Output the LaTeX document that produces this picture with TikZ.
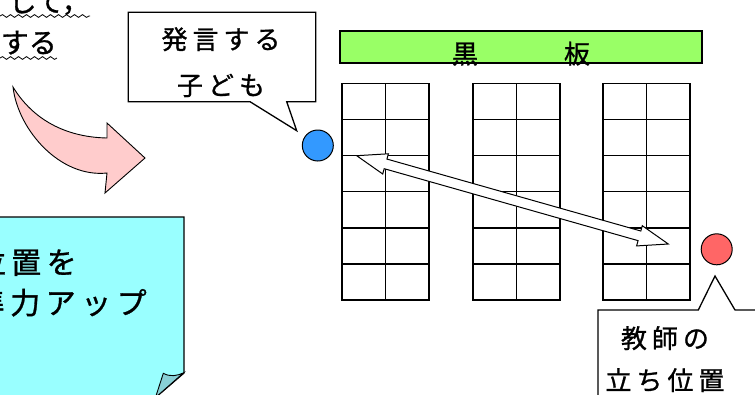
\documentclass[tikz,border=0pt]{standalone}
\usepackage{fontspec}
\newfontfamily\jp[FakeBold=1.0]{Noto Sans CJK JP}
\usetikzlibrary{calc,decorations.pathmorphing}
\definecolor{kidblue}{HTML}{3399FF}
\definecolor{teachred}{HTML}{FF6666}
\definecolor{boardgreen}{HTML}{99FF66}
\definecolor{notecyan}{HTML}{99FFFF}
\definecolor{foldcyan}{HTML}{88D0D6}
\definecolor{arrowpink}{HTML}{FFCCCC}
\newcommand{\kk}{\hspace{5pt}}
\newcommand{\kc}{\hspace{5.5pt}}
\begin{document}
\begin{tikzpicture}[x=1pt,y=-1pt,
  ol/.style={draw=black,line width=1.3pt,line join=miter},
  txt/.style={inner sep=0pt,anchor=base,font=\jp\fontsize{26}{26}\selectfont},
  notetxt/.style={inner sep=0pt,anchor=base west,font=\jp\fontsize{30}{30}\selectfont},
  toptxt/.style={inner sep=0pt,anchor=base east,font=\jp\fontsize{28}{28}\selectfont},
  wavy/.style={draw=black,line width=0.8pt,decorate,decoration={snake,amplitude=1.4pt,segment length=8pt}},
  desk/.style={draw=black,line width=1.6pt},
  person/.style={circle,draw=black,line width=1pt,inner sep=0pt,minimum size=31pt}]
\useasboundingbox (0,0) rectangle (755,394);

% top-left text with wavy underline
\node[toptxt] (t1) at (90,12) {して，};
\node[toptxt] (t2) at (57,53) {する};
\draw[wavy] (0,16) -- (90,16);
\draw[wavy] (0,58) -- (57,58);

% pink curved arrow
\draw[ol,line width=0.9pt,fill=arrowpink] (13,87) .. controls (30,115) and (60,137) .. (107,138)
  -- (107,123) -- (145,158) -- (105,193) -- (107,173)
  .. controls (60,178) and (18,130) .. (13,87) -- cycle;

% cyan note
\draw[ol,fill=notecyan] (-5,217) -- (184,217) -- (184,373) -- (155.5,397.5) -- (-5,397.5) -- cycle;
\draw[ol,line width=0.9pt,fill=foldcyan] (163.3,373.3) .. controls (170,377) and (177,376) .. (183.6,372.8)
  -- (155.5,397.5) -- cycle;
\node[notetxt] (n1) at (-24.5,273.5) {位\kc 置\kc を};
\node[notetxt] (n2) at (-25.5,314) {準\kc 力\kc ア\kc ッ\kc プ};

% speech bubble of child
\draw[ol,fill=white] (128.3,12.3) -- (315.7,12.3) -- (315.7,101.7) -- (286.7,101.7)
  -- (296.7,130.7) -- (250,101.7) -- (128.3,101.7) -- cycle;
\node[txt] (c1) at (221,49) {発\kk 言\kk す\kk る};
\node[txt] (c2) at (221,95) {子\kk ど\kk も};

% blackboard
\node[ol,fill=boardgreen,minimum width=362pt,minimum height=32pt,inner sep=0pt] (board) at (521,47) {};
\node[txt] (boardlbl) at (521,63.5) {黒\hspace{86pt}板};

% desks
\foreach \x in {341.7,472.7,602.7}{
  \draw[desk] (\x,83.3) rectangle ($(\x,300)+(87.3,0)$);
  \draw[desk] ($(\x,83.3)+(43.6,0)$) -- ($(\x,300)+(43.6,0)$);
  \foreach \r in {1,...,5}{
    \draw[desk] ($(\x,83.3)+(0,\r*36.12)$) -- ($(\x,83.3)+(87.3,\r*36.12)$);
  }
}

% persons
\node[person,fill=kidblue] (kid) at (317.8,145.5) {};
\node[person,fill=teachred] (teacher) at (716.7,249.3) {};

% double arrow
\coordinate (aL) at (356.7,155.7);
\coordinate (aR) at (668.3,244);
\draw[draw=black,line width=1pt,fill=white,line join=miter]
  (aL) -- ($(aL)!30pt!(aR)!10.5pt!90:(aR)$) -- ($(aL)!30pt!(aR)!5pt!90:(aR)$)
  -- ($(aR)!30pt!(aL)!5pt!-90:(aL)$) -- ($(aR)!30pt!(aL)!10.5pt!-90:(aL)$)
  -- (aR) -- ($(aR)!30pt!(aL)!10.5pt!90:(aL)$) -- ($(aR)!30pt!(aL)!5pt!90:(aL)$)
  -- ($(aL)!30pt!(aR)!5pt!-90:(aR)$) -- ($(aL)!30pt!(aR)!10.5pt!-90:(aR)$) -- cycle;

% teacher speech bubble
\draw[ol,fill=white] (598,400) -- (598,310) -- (698.3,310) -- (715,276) -- (735,310) -- (760,310) -- (760,400) -- cycle;
\node[txt] (s1) at (665,348) {教\kk 師\kk の};
\node[txt] (s2) at (665,390) {立\kk ち\kk 位\kk 置};
\end{tikzpicture}
\end{document}
